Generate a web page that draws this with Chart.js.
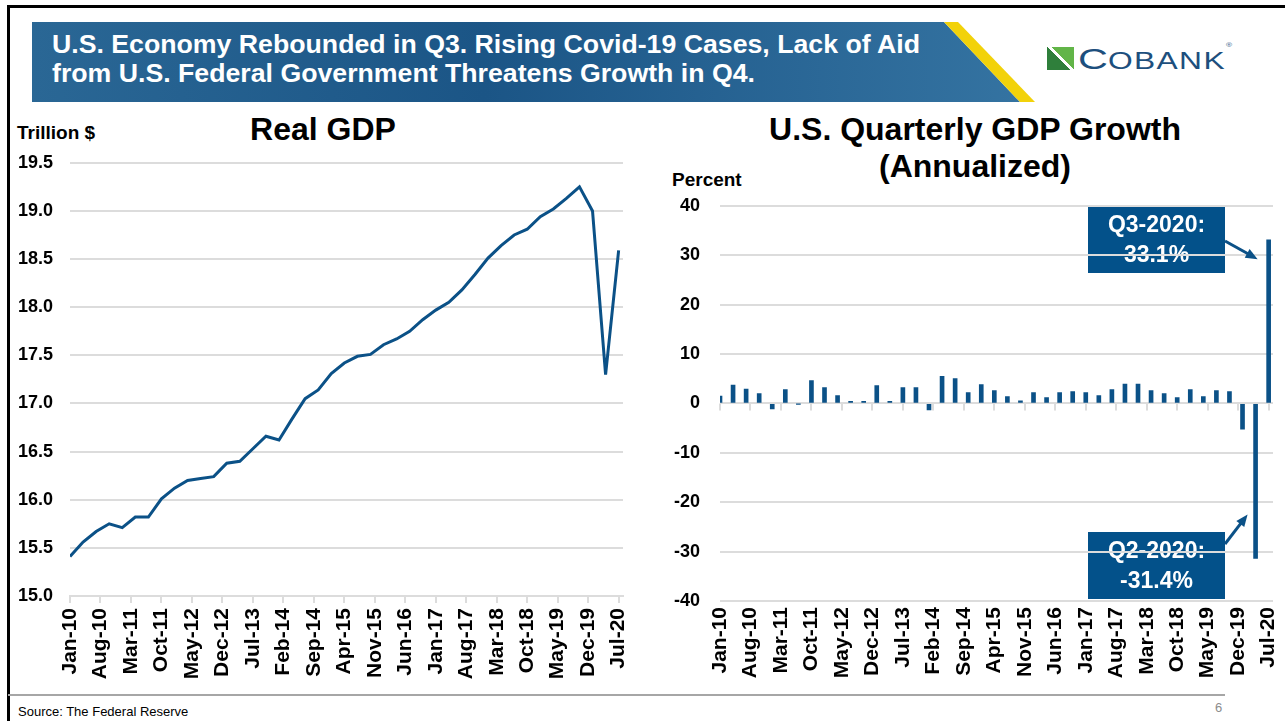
<!DOCTYPE html>
<html>
<head>
<meta charset="utf-8">
<script src="https://cdn.jsdelivr.net/npm/chart.js@4.4.0/dist/chart.umd.min.js"></script>
<style>
  body { margin: 0; width: 1285px; height: 721px; background: #fff; overflow: hidden; position: relative;
         font-family: "Liberation Sans", Arial, sans-serif; }
  .abs { position: absolute; }
  .frame-top { left: 8px; top: 5px; width: 1277px; height: 3px; background: #000; }
  .frame-left { left: 7px; top: 5px; width: 3px; height: 716px; background: #000; }
  .banner { left: 32px; top: 22px; width: 1005px; height: 80px;
            background: linear-gradient(to right, #2a6795, #1b5586 45%, #3574a2);
            clip-path: polygon(0 0, 912px 0, 988px 80px, 0 80px); }
  .stripe { left: 32px; top: 22px; width: 1005px; height: 80px; background: #f2d20a;
            clip-path: polygon(912px 0, 926px 0, 1003px 80px, 988px 80px); }
  .banner-text { left: 52px; top: 30px; color: #fff; font-weight: bold; font-size: 26.7px; line-height: 29px; }
  .logo-icon { left: 1047px; top: 47px; width: 27px; height: 23px;
               background: linear-gradient(45deg, #2f7f3b 0 47%, #fff 47% 56%, #62b548 56%); }
  .logo-text { left: 1078px; top: 42px; color: #1d4f7d; white-space: nowrap; transform: scaleX(1.38); transform-origin: left; }
  .title { font-weight: bold; font-size: 32px; text-align: center; color: #000; }
  .unit { font-weight: bold; font-size: 19px; color: #000; }
  .rule { left: 8px; top: 694px; width: 1217px; height: 2px; background: #a6a6a6; }
  .source { left: 18px; top: 704px; font-size: 13px; color: #000; }
  .page { left: 1215px; top: 700px; font-size: 13px; color: #8c8c8c; }
</style>
</head>
<body>
<div class="abs frame-top"></div>
<div class="abs frame-left"></div>
<div class="abs banner"></div>
<div class="abs stripe"></div>
<div class="abs banner-text">U.S. Economy Rebounded in Q3. Rising Covid-19 Cases, Lack of Aid<br>from U.S. Federal Government Threatens Growth in Q4.</div>
<div class="abs logo-icon"></div>
<div class="abs logo-text"><span style="font-size:30px">C</span><span style="font-size:23px;letter-spacing:1px">OBANK</span><span style="font-size:6px;vertical-align:top">®</span></div>

<div class="abs unit" style="left:17px; top:122px;">Trillion $</div>
<div class="abs title" style="left:173px; top:111px; width:300px;">Real GDP</div>
<div class="abs title" style="left:725px; top:111px; width:500px; line-height:37px;">U.S. Quarterly GDP Growth<br>(Annualized)</div>
<div class="abs unit" style="left:672px; top:169px;">Percent</div>

<div class="abs" style="left:0; top:135px;"><canvas id="gdpChart" width="640" height="560"></canvas></div>
<div class="abs" style="left:650px; top:175px;"><canvas id="growthChart" width="635" height="520"></canvas></div>

<div class="abs rule"></div>
<div class="abs source">Source: The Federal Reserve</div>
<div class="abs page">6</div>

<script>
// quarterly observations
const quarters = [
  'Jan-10','Apr-10','Jul-10','Oct-10','Jan-11','Apr-11','Jul-11','Oct-11',
  'Jan-12','Apr-12','Jul-12','Oct-12','Jan-13','Apr-13','Jul-13','Oct-13',
  'Jan-14','Apr-14','Jul-14','Oct-14','Jan-15','Apr-15','Jul-15','Oct-15',
  'Jan-16','Apr-16','Jul-16','Oct-16','Jan-17','Apr-17','Jul-17','Oct-17',
  'Jan-18','Apr-18','Jul-18','Oct-18','Jan-19','Apr-19','Jul-19','Oct-19',
  'Jan-20','Apr-20','Jul-20'
];
// Real GDP, trillion $
const realGdp = [
  15.41, 15.56, 15.67, 15.75, 15.71, 15.82, 15.82, 16.01, 16.12, 16.20,
  16.22, 16.24, 16.38, 16.40, 16.53, 16.66, 16.62, 16.84, 17.05, 17.14,
  17.31, 17.42, 17.49, 17.51, 17.61, 17.67, 17.75, 17.87, 17.97, 18.05,
  18.18, 18.34, 18.51, 18.64, 18.75, 18.81, 18.94, 19.02, 19.13, 19.25,
  19.00, 17.30, 18.59
];
// quarterly growth, annualized %
const gdpGrowth = [
  1.5, 3.7, 2.9, 2.0, -1.1, 2.8, -0.1, 4.6, 3.2, 1.6,
  0.4, 0.4, 3.6, 0.4, 3.2, 3.2, -1.3, 5.5, 5.0, 2.2,
  3.8, 2.6, 1.4, 0.5, 2.2, 1.2, 2.2, 2.4, 2.2, 1.6,
  2.8, 3.9, 3.9, 2.6, 2.0, 1.2, 2.8, 1.4, 2.6, 2.4,
  -5.2, -31.4, 33.1
];
const tickLabels = ['Jan-10','Aug-10','Mar-11','Oct-11','May-12','Dec-12','Jul-13','Feb-14','Sep-14',
  'Apr-15','Nov-15','Jun-16','Jan-17','Aug-17','Mar-18','Oct-18','May-19','Dec-19','Jul-20'];
const gdpTicks = [15.0, 15.5, 16.0, 16.5, 17.0, 17.5, 18.0, 18.5, 19.0, 19.5];
const growthTicks = [-40, -30, -20, -10, 0, 10, 20, 30, 40];

const monthNames = ['Jan','Feb','Mar','Apr','May','Jun','Jul','Aug','Sep','Oct','Nov','Dec'];
function monthIndex(label) {
  return monthNames.indexOf(label.slice(0, 3)) + 12 * (parseInt(label.slice(4), 10) - 10);
}
const tickMonths = tickLabels.map(monthIndex);

const BLUE = '#0b5187';
const GRID = '#dcdcdc';
const FAMILY = '"Liberation Sans", Arial, sans-serif';
const yFont = { family: FAMILY, size: 18, weight: 'bold' };
const xFont = { family: FAMILY, size: 21, weight: 'bold' };

const xAxis = (height, extra) => Object.assign({
  type: 'linear',
  min: 0,
  max: 127,
  afterBuildTicks: s => { s.ticks = tickMonths.map(v => ({ value: v })); },
  afterFit: s => {
    s.height = height;
    // keep the rotated end labels from squeezing the plot area
    s.paddingLeft = 0;
    s.paddingRight = 0;
  }
}, extra);

const xTicks = pad => ({
  autoSkip: false, maxRotation: 90, minRotation: 90, color: '#000', font: xFont, padding: pad,
  callback: v => tickLabels[tickMonths.indexOf(v)]
});

// Real GDP line
new Chart(document.getElementById('gdpChart'), {
  type: 'line',
  data: {
    datasets: [{
      data: quarters.map((q, i) => ({ x: monthIndex(q), y: realGdp[i] })),
      borderColor: BLUE,
      borderWidth: 3,
      pointRadius: 0,
      tension: 0,
      fill: false
    }]
  },
  options: {
    responsive: false,
    animation: false,
    layout: { padding: { top: 11, right: 17, left: 0, bottom: 0 } },
    plugins: { legend: { display: false }, tooltip: { enabled: false } },
    scales: {
      x: xAxis(99, {
        grid: { drawOnChartArea: false, drawTicks: true, tickLength: 7, color: GRID, lineWidth: 2 },
        border: { display: true, color: GRID, width: 2 },
        ticks: xTicks(5)
      }),
      y: {
        min: 15, max: 19.5,
        afterFit: s => { s.width = 70; },
        afterBuildTicks: s => { s.ticks = gdpTicks.map(v => ({ value: v })); },
        ticks: { padding: 17, color: '#000', font: yFont, callback: v => v.toFixed(1) },
        grid: { color: GRID, lineWidth: 2, drawTicks: false },
        border: { display: false }
      }
    }
  }
});

// tick marks on the zero line, callout boxes and arrows
const growthExtras = {
  id: 'growthExtras',
  beforeDraw(chart) {
    const ctx = chart.ctx;
    const boxes = [
      { x: 438, y: 31, lines: ['Q3-2020:', gdpGrowth[42].toFixed(1) + '%'] },
      { x: 438, y: 357, lines: ['Q2-2020:', gdpGrowth[41].toFixed(1) + '%'] }
    ];
    ctx.save();
    boxes.forEach(b => {
      ctx.fillStyle = '#03518a';
      ctx.fillRect(b.x, b.y, 137, 67);
      ctx.fillStyle = '#fff';
      ctx.font = 'bold 23px ' + FAMILY;
      ctx.textAlign = 'center';
      ctx.textBaseline = 'middle';
      ctx.fillText(b.lines[0], b.x + 68.5, b.y + 20);
      ctx.fillText(b.lines[1], b.x + 68.5, b.y + 50);
    });
    ctx.restore();
  },
  beforeDatasetsDraw(chart) {
    const ctx = chart.ctx;
    const xs = chart.scales.x;
    const y0 = chart.scales.y.getPixelForValue(0);
    ctx.save();
    ctx.strokeStyle = GRID;
    ctx.lineWidth = 2;
    tickMonths.forEach(m => {
      const px = Math.round(xs.getPixelForValue(m));
      ctx.beginPath();
      ctx.moveTo(px, y0);
      ctx.lineTo(px, y0 + 7);
      ctx.stroke();
    });
    ctx.restore();
  },
  afterDraw(chart) {
    const ctx = chart.ctx;
    const xs = chart.scales.x, ys = chart.scales.y;
    const arrow = (x1, y1, x2, y2) => {
      const a = Math.atan2(y2 - y1, x2 - x1);
      ctx.beginPath();
      ctx.moveTo(x1, y1);
      ctx.lineTo(x2 - 8 * Math.cos(a), y2 - 8 * Math.sin(a));
      ctx.stroke();
      ctx.beginPath();
      ctx.moveTo(x2, y2);
      ctx.lineTo(x2 - 12 * Math.cos(a) + 5 * Math.sin(a), y2 - 12 * Math.sin(a) - 5 * Math.cos(a));
      ctx.lineTo(x2 - 12 * Math.cos(a) - 5 * Math.sin(a), y2 - 12 * Math.sin(a) + 5 * Math.cos(a));
      ctx.closePath();
      ctx.fill();
    };
    ctx.save();
    ctx.strokeStyle = BLUE;
    ctx.fillStyle = BLUE;
    ctx.lineWidth = 3;
    arrow(575, 66, xs.getPixelForValue(126) - 11, ys.getPixelForValue(29.2));
    arrow(575, 369, xs.getPixelForValue(123) - 8, ys.getPixelForValue(-22.5));
    ctx.restore();
  }
};

// Quarterly growth bars
new Chart(document.getElementById('growthChart'), {
  type: 'bar',
  data: {
    datasets: [{
      data: quarters.map((q, i) => ({ x: monthIndex(q), y: gdpGrowth[i] })),
      backgroundColor: BLUE,
      barThickness: 4
    }]
  },
  plugins: [growthExtras],
  options: {
    responsive: false,
    animation: false,
    layout: { padding: { top: 15, right: 12, left: 0, bottom: 0 } },
    plugins: { legend: { display: false }, tooltip: { enabled: false } },
    scales: {
      x: xAxis(94, {
        offset: false,
        grid: { display: false, drawTicks: false },
        border: { display: false },
        ticks: xTicks(6)
      }),
      y: {
        min: -40, max: 40,
        afterFit: s => { s.width = 70; },
        afterBuildTicks: s => { s.ticks = growthTicks.map(v => ({ value: v })); },
        ticks: { padding: 20, color: '#000', font: yFont },
        grid: { color: GRID, lineWidth: 2, drawTicks: false },
        border: { display: false }
      }
    }
  }
});
</script>
</body>
</html>
